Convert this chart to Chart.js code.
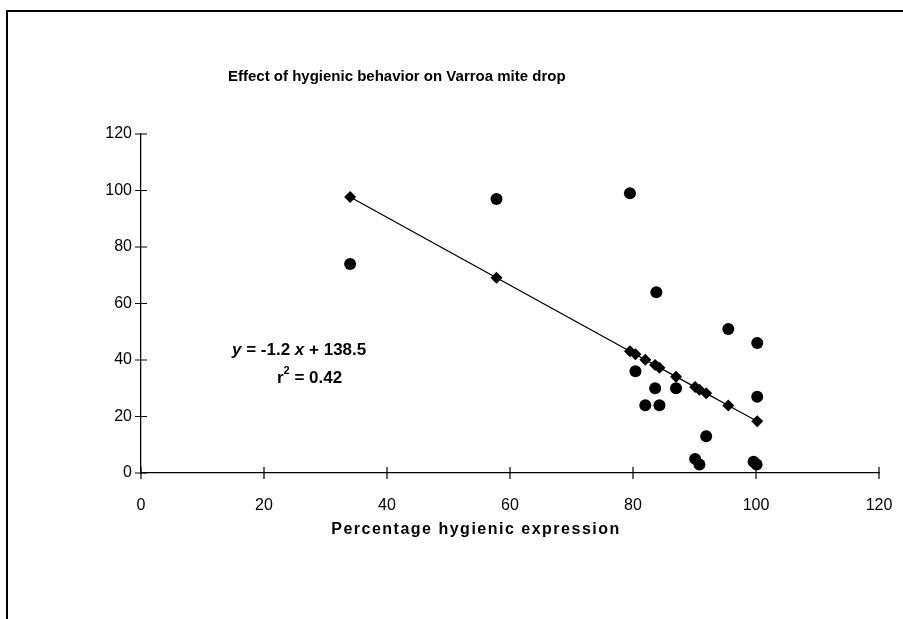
<!DOCTYPE html>
<html>
<head>
<meta charset="utf-8">
<script src="https://cdn.jsdelivr.net/npm/chart.js@4.4.1/dist/chart.umd.min.js"></script>
<style>
  html, body { margin: 0; padding: 0; background: #fff; }
  #wrap { position: relative; width: 903px; height: 619px; }
</style>
</head>
<body>
<div id="wrap"><canvas id="mite-chart" width="903" height="619"></canvas></div>
<script>
  const CHART_TITLE = "Effect of hygienic behavior on Varroa mite drop";
  const X_TITLE = "Percentage hygienic expression";
  const X_TICKS = [0, 20, 40, 60, 80, 100, 120];
  const Y_TICKS = [0, 20, 40, 60, 80, 100, 120];

  // observed colonies
  const hygienicPct = [34, 57.8, 79.5, 83.8, 95.5, 100.2, 80.4, 83.6, 87.0, 82.0, 84.3, 100.2, 91.9, 90.1, 90.8, 99.6, 100.1];
  const miteDrop = [74, 97, 99, 64, 51, 46, 36, 30, 30, 24, 24, 27, 13, 5, 3, 4, 3];

  // fitted values on the trend line
  const fitPct = [34, 57.8, 79.5, 80.4, 82.0, 83.6, 84.3, 87.0, 90.1, 90.8, 91.9, 95.5, 100.2];
  const fitDrop = [97.7, 69.1, 43.1, 42.0, 40.1, 38.2, 37.3, 34.1, 30.4, 29.5, 28.2, 23.9, 18.3];

  const FONT = '"Liberation Sans", Arial, sans-serif';

  function toPoints(xs, ys) {
    return xs.map((x, i) => ({ x, y: ys[i] }));
  }

  // ticks that cross the axis line, like the old spreadsheet charts
  const crossTicks = {
    id: "crossTicks",
    afterDraw(chart) {
      const { ctx, scales } = chart;
      const xs = scales.x, ys = scales.y;
      const axisY = ys.getPixelForValue(0);
      const axisX = xs.getPixelForValue(0);
      ctx.save();
      ctx.strokeStyle = "#000";
      ctx.lineWidth = 1.2;
      ctx.beginPath();
      X_TICKS.forEach((v) => {
        const px = xs.getPixelForValue(v);
        ctx.moveTo(px, axisY - 6);
        ctx.lineTo(px, axisY + 6);
      });
      Y_TICKS.forEach((v) => {
        const py = ys.getPixelForValue(v);
        ctx.moveTo(axisX - 6, py);
        ctx.lineTo(axisX + 6, py);
      });
      ctx.stroke();
      ctx.restore();
    },
  };

  const labels = {
    id: "labels",
    afterDraw(chart) {
      const { ctx } = chart;
      ctx.save();
      // outer frame (only top and left edges show)
      ctx.strokeStyle = "#000";
      ctx.lineWidth = 2;
      ctx.beginPath();
      ctx.moveTo(7, 619);
      ctx.lineTo(7, 11);
      ctx.lineTo(903, 11);
      ctx.stroke();

      ctx.fillStyle = "#000";
      ctx.textBaseline = "middle";
      ctx.textAlign = "left";
      ctx.font = "bold 15px " + FONT;
      ctx.fillText(CHART_TITLE, 228, 77);

      ctx.textAlign = "center";
      ctx.font = "bold 16px " + FONT;
      ctx.letterSpacing = "1.5px";
      ctx.fillText(X_TITLE, 476, 530);
      ctx.letterSpacing = "0px";

      // regression equation
      ctx.textAlign = "left";
      let x = 232;
      const y1 = 350;
      const parts = [
        ["italic bold 17px ", "y"],
        ["bold 17px ", " = -1.2 "],
        ["italic bold 17px ", "x"],
        ["bold 17px ", " + 138.5"],
      ];
      parts.forEach(([f, t]) => {
        ctx.font = f + FONT;
        ctx.fillText(t, x, y1);
        x += ctx.measureText(t).width;
      });

      x = 277;
      const y2 = 378;
      ctx.font = "bold 17px " + FONT;
      ctx.fillText("r", x, y2);
      x += ctx.measureText("r").width;
      ctx.font = "bold 11px " + FONT;
      ctx.fillText("2", x, y2 - 7);
      x += ctx.measureText("2").width;
      ctx.font = "bold 17px " + FONT;
      ctx.fillText(" = 0.42", x, y2);
      ctx.restore();
    },
  };

  const ctx = document.getElementById("mite-chart").getContext("2d");

  new Chart(ctx, {
    type: "scatter",
    data: {
      datasets: [
        {
          label: "Mite drop",
          data: toPoints(hygienicPct, miteDrop),
          pointStyle: "circle",
          pointRadius: 6,
          backgroundColor: "#000",
          borderColor: "#000",
          borderWidth: 0,
        },
        {
          label: "Linear fit",
          data: toPoints(fitPct, fitDrop),
          showLine: true,
          borderColor: "#000",
          borderWidth: 1.3,
          pointStyle: "rectRot",
          pointRadius: 6,
          pointBackgroundColor: "#000",
          pointBorderWidth: 0,
        },
      ],
    },
    options: {
      responsive: false,
      animation: false,
      layout: { padding: { left: 0, top: 134, right: 24, bottom: 0 } },
      plugins: {
        legend: { display: false },
        tooltip: { enabled: false },
        title: { display: false },
      },
      scales: {
        x: {
          type: "linear",
          min: 0,
          max: 120,
          afterBuildTicks: (scale) => { scale.ticks = X_TICKS.map((v) => ({ value: v })); },
          afterFit: (scale) => {
            scale.height = 146;
            scale.paddingLeft = 0;
            scale.paddingRight = 0;
          },
          grid: { display: false, drawTicks: false },
          border: { display: true, color: "#000", width: 1.3 },
          ticks: {
            padding: 23,
            color: "#000",
            font: { family: FONT, size: 16 },
          },
        },
        y: {
          type: "linear",
          min: 0,
          max: 120,
          afterBuildTicks: (scale) => { scale.ticks = Y_TICKS.map((v) => ({ value: v })); },
          afterFit: (scale) => { scale.width = 141; },
          grid: { display: false, drawTicks: false },
          border: { display: true, color: "#000", width: 1.3 },
          ticks: {
            padding: 9,
            color: "#000",
            font: { family: FONT, size: 16 },
          },
        },
      },
    },
    plugins: [crossTicks, labels],
  });
</script>
</body>
</html>
